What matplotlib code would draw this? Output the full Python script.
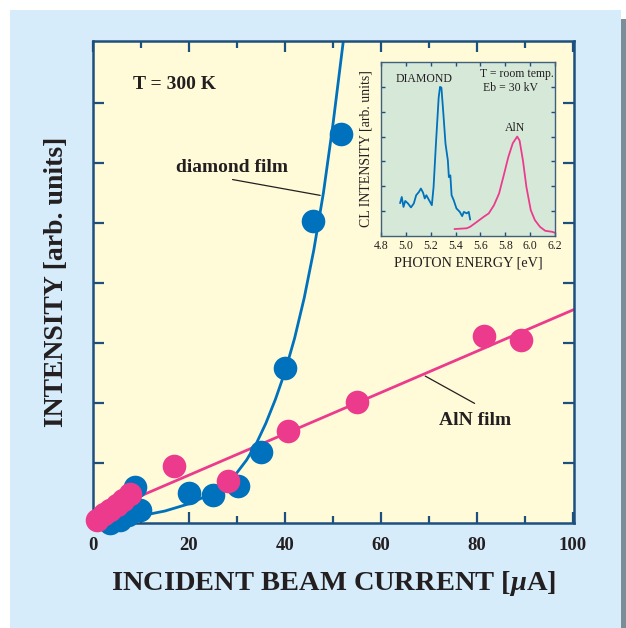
import matplotlib
matplotlib.use("Agg")
import matplotlib.pyplot as plt
from matplotlib.patches import Rectangle

# --- main panel: integrated CL intensity vs beam current ---
diamond_current = [3.5, 5.6, 7.3, 9.8, 8.75, 20.0, 25.0, 30.2, 35.0, 40.0, 45.8, 51.7]
diamond_intens = [0.0, 0.05, 0.13, 0.22, 0.6, 0.5, 0.47, 0.62, 1.18, 2.58, 5.03, 6.48]

aln_current = [0.8, 2.3, 3.5, 5.0, 6.25, 7.7, 16.9, 28.1, 40.6, 55.0, 81.5, 89.2]
aln_intens = [0.05, 0.15, 0.22, 0.3, 0.38, 0.48, 0.95, 0.7, 1.53, 2.02, 3.12, 3.05]

# guide curves through the data
diamond_fit_x = [0, 5, 10, 15, 20, 25, 28, 30, 32, 34, 36, 38, 40, 42, 44, 46, 48, 50, 52.1]
diamond_fit_y = [0.02, 0.06, 0.12, 0.2, 0.32, 0.5, 0.68, 0.84, 1.05, 1.32, 1.66, 2.06,
                 2.52, 3.08, 3.75, 4.55, 5.5, 6.65, 8.0]
aln_fit_x = [0, 100]
aln_fit_y = [0.11, 3.55]

x_ticks = [0, 20, 40, 60, 80, 100]

# --- inset: CL spectra ---
dia_energy = [4.954, 4.967, 4.981, 4.995, 5.017, 5.041, 5.064, 5.083, 5.105, 5.121,
              5.138, 5.152, 5.165, 5.187, 5.209, 5.223, 5.242, 5.264, 5.275, 5.286,
              5.302, 5.319, 5.338, 5.346, 5.358, 5.368, 5.385, 5.407, 5.434, 5.453,
              5.467, 5.489, 5.506, 5.517]
dia_cl = [1.33, 1.57, 1.17, 1.41, 1.31, 1.15, 1.31, 1.64, 1.77, 1.91,
          1.75, 1.51, 1.64, 1.44, 1.24, 1.97, 3.71, 5.57, 6.0, 5.97,
          4.91, 3.71, 3.04, 2.37, 2.44, 1.64, 1.44, 1.11, 0.97, 0.8,
          0.97, 0.91, 0.97, 0.67]

aln_energy = [5.393, 5.489, 5.517, 5.572, 5.626, 5.667, 5.709, 5.75, 5.791, 5.824,
              5.86, 5.896, 5.915, 5.942, 5.97, 6.005, 6.038, 6.079, 6.121, 6.176, 6.2]
aln_cl = [0.28, 0.31, 0.37, 0.57, 0.77, 0.91, 1.24, 1.71, 2.51, 3.17,
          3.73, 4.0, 3.84, 3.04, 1.97, 1.04, 0.64, 0.37, 0.21, 0.17, 0.13]

inset_x_ticks = [4.8, 5.0, 5.2, 5.4, 5.6, 5.8, 6.0, 6.2]

BLUE = "#0071bc"
PINK = "#ec3b8d"
SPINE = "#1d4f7f"
TEXT = "#231f20"
SERIF = ["Liberation Serif", "DejaVu Serif"]

plt.rcParams["font.family"] = SERIF
plt.rcParams["mathtext.fontset"] = "custom"
plt.rcParams["mathtext.it"] = "Liberation Serif:italic:bold"
plt.rcParams["mathtext.rm"] = "Liberation Serif:bold"

fig = plt.figure(figsize=(6.26, 6.28), dpi=100)
fig.patch.set_facecolor("white")

# light blue panel with a grey edge on the right
fig.add_artist(Rectangle((10 / 626, 0), 611 / 626, 618 / 628,
                         transform=fig.transFigure, facecolor="#d6ecfa",
                         edgecolor="none", zorder=-10))
fig.add_artist(Rectangle((621 / 626, 0), 5 / 626, 609 / 628,
                         transform=fig.transFigure, facecolor="#7d8d97",
                         edgecolor="none", zorder=-10))

ax = fig.add_axes([93 / 626, 105 / 628, 481 / 626, 482 / 628])
ax.set_facecolor("#fffbd8")

ax.plot(diamond_fit_x, diamond_fit_y, color=BLUE, lw=2.0, zorder=2, clip_on=True)
ax.plot(aln_fit_x, aln_fit_y, color=PINK, lw=2.0, zorder=2)
ax.plot(diamond_current, diamond_intens, "o", ms=17, color=BLUE, mec="none",
        zorder=3, clip_on=False)
ax.plot(aln_current, aln_intens, "o", ms=17, color=PINK, mec="none",
        zorder=4, clip_on=False)

ax.set_xlim(0, 100.2)
ax.set_ylim(0, 8.03)
ax.set_xticks(x_ticks)
ax.set_xticks([10, 30, 50, 70, 90], minor=True)
ax.set_yticks([1, 2, 3, 4, 5, 6, 7])
ax.set_yticklabels([])
ax.tick_params(which="both", direction="in", top=True, right=True,
               color=SPINE, width=1.6, labelsize=13.5, pad=10, labelcolor=TEXT)
ax.tick_params(which="major", length=8)
ax.tick_params(which="minor", length=5)
for lab in ax.get_xticklabels():
    lab.set_fontweight("bold")
for s in ax.spines.values():
    s.set_color(SPINE)
    s.set_linewidth(1.8)

ax.set_xlabel(r"INCIDENT BEAM CURRENT [$\mathit{\mu}$A]", fontsize=20.5,
              fontweight="bold", color=TEXT, labelpad=11)
ax.set_ylabel("INTENSITY [arb. units]", fontsize=20, fontweight="bold",
              color=TEXT, labelpad=7)

ax.text(8.3, 7.3, "T = 300 K", fontsize=14, fontweight="bold", color=TEXT,
        va="center", ha="left")
ax.text(29.0, 5.92, "diamond film", fontsize=14, fontweight="bold", color=TEXT,
        va="center", ha="center")
ax.annotate("", xy=(47.9, 5.45), xytext=(28.5, 5.73),
            arrowprops=dict(arrowstyle="-", color=TEXT, lw=0.9))
ax.text(79.5, 1.71, "AlN film", fontsize=14, fontweight="bold", color=TEXT,
        va="center", ha="center")
ax.annotate("", xy=(68.7, 2.47), xytext=(80.0, 1.97),
            arrowprops=dict(arrowstyle="-", color=TEXT, lw=0.9))

# inset spectra
ins = fig.add_axes([381 / 626, 392 / 628, 174 / 626, 174 / 628])
ins.set_facecolor("#d6e9d9")
ins.plot(dia_energy, dia_cl, color=BLUE, lw=1.3)
ins.plot(aln_energy, aln_cl, color=PINK, lw=1.3)
ins.set_xlim(4.8, 6.2)
ins.set_ylim(0, 7)
ins.set_xticks(inset_x_ticks)
ins.set_xticklabels([f"{v:.1f}" for v in inset_x_ticks])
ins.set_yticks([1, 2, 3, 4, 5, 6])
ins.set_yticklabels([])
ins.tick_params(direction="in", top=True, right=True, length=3, width=1.0,
                color=SPINE, labelsize=8.5, pad=3, labelcolor=TEXT)
for s in ins.spines.values():
    s.set_color("#3f5f7a")
    s.set_linewidth(1.0)
ins.set_xlabel("PHOTON ENERGY [eV]", fontsize=10.3, color=TEXT, labelpad=3)
ins.set_ylabel("CL INTENSITY [arb. units]", fontsize=10, color=TEXT, labelpad=3)
ins.text(5.145, 6.3, "DIAMOND", fontsize=8.5, color=TEXT, ha="center", va="center")
ins.text(6.19, 6.5, "T = room temp.", fontsize=8.5, color=TEXT, ha="right", va="center")
ins.text(5.62, 5.95, "Eb = 30 kV", fontsize=8.5, color=TEXT, ha="left", va="center")
ins.text(5.875, 4.35, "AlN", fontsize=8.5, color=TEXT, ha="center", va="center")

fig.savefig("out.png", dpi=100)
